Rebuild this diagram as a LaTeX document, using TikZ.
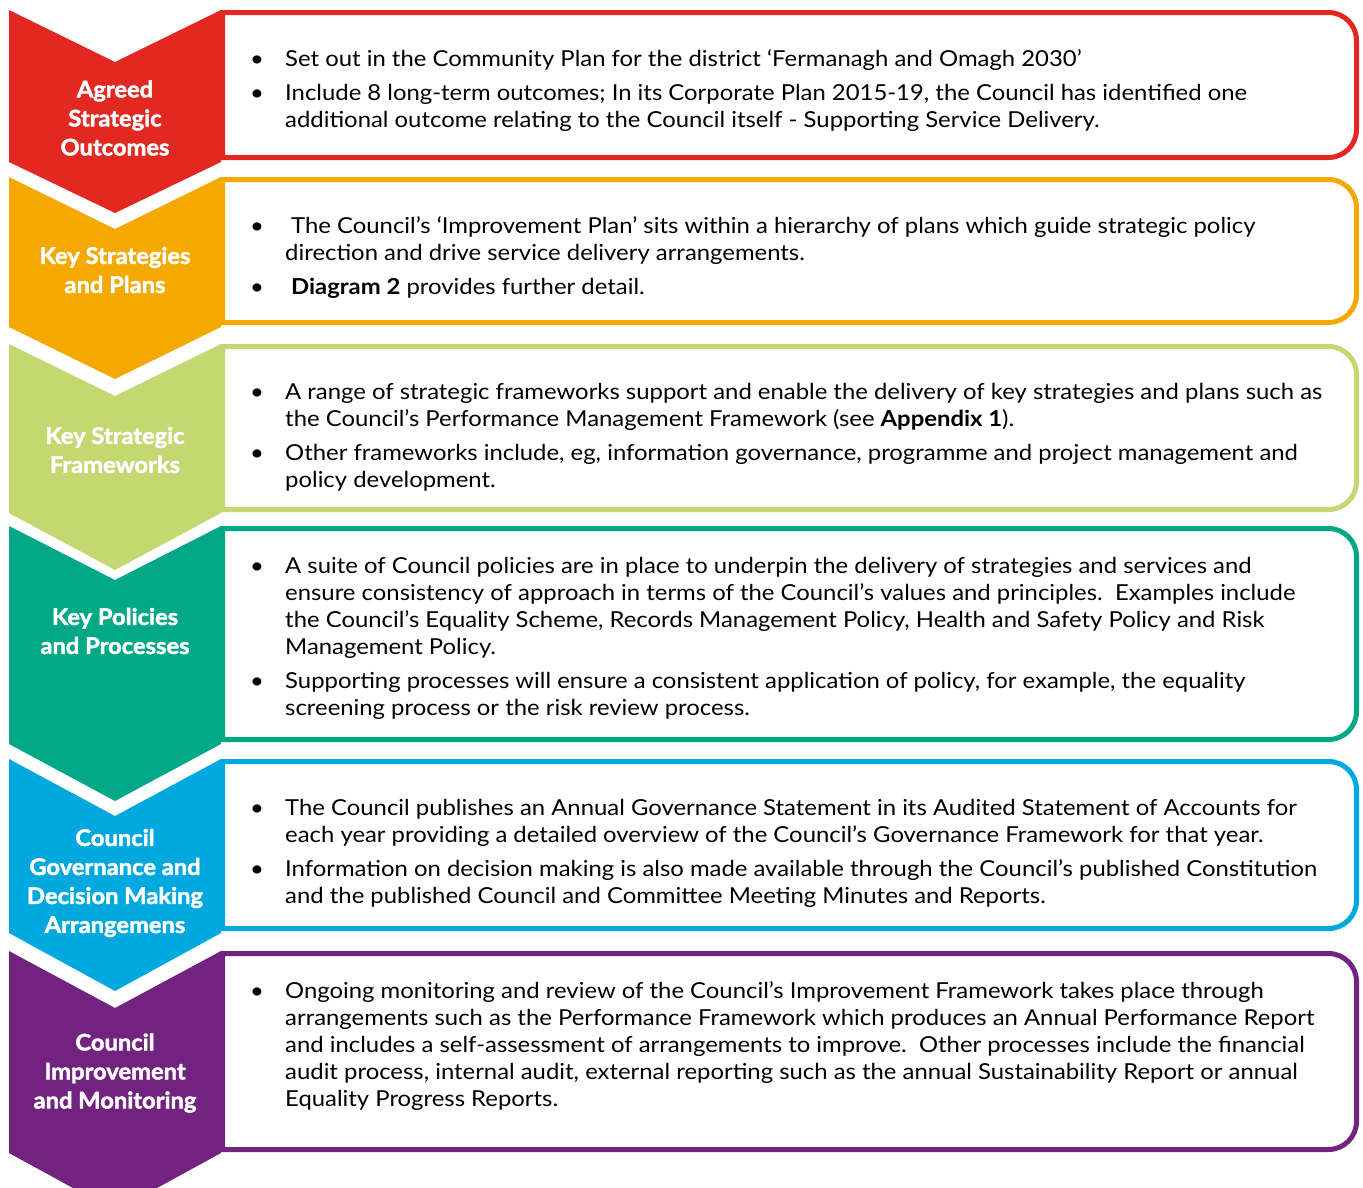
\documentclass[tikz,border=0pt]{standalone}
\usepackage{fontspec}
\setmainfont{Lato}[FakeStretch=1.085]
\newfontfamily\headfamily{Lato}[FakeStretch=1.04, UprightFont=*, BoldFeatures={FakeBold=2}]
\definecolor{outcomered}{RGB}{227,39,33}
\definecolor{planorange}{RGB}{245,168,0}
\definecolor{frameworkgreen}{RGB}{197,215,113}
\definecolor{policyteal}{RGB}{0,168,135}
\definecolor{governblue}{RGB}{0,168,224}
\definecolor{monitorpurple}{RGB}{114,35,127}
\newcommand{\bodyfont}{\fontsize{22}{27}\selectfont}
\newcommand{\headfont}{\fontsize{22.8}{29}\selectfont\headfamily\bfseries}
\newenvironment{bullets}{\begin{tabular}[t]{@{}p{35pt}@{}l@{}}}{\end{tabular}}

\begin{document}
\begin{tikzpicture}[x=1pt, y=-1pt,
  chevron/.style={fill=#1},
  panel/.style={draw=#1, line width=5pt, fill=white},
  heading/.style={text=white, font=\headfont, align=center, inner sep=0pt},
  body/.style={anchor=base west, inner sep=0pt, font=\bodyfont}]
\useasboundingbox (0,0) rectangle (1363,1187);

% row 1
\draw[panel=outcomered] (222.5,12.5) -- (1328.5,12.5) arc[start angle=-90,end angle=0,radius=28]
  -- (1356.5,129.5) arc[start angle=0,end angle=90,radius=28] -- (222.5,157.5) -- cycle;
\fill[chevron=outcomered] (9,10) -- (115,62) -- (221,10) -- (221,162) -- (115,213) -- (9,162) -- cycle;
\node[heading] (outcomes) at (115,118) {Agreed\\Strategic\\Outcomes};
\node[body] (outcomestext) at (250,66) {\begin{bullets}
\textbullet & Set out in the Community Plan for the district ‘Fermanagh and Omagh 2030’\\[7pt]
\textbullet & Include 8 long-term outcomes; In its Corporate Plan 2015-19, the Council has identified one\\
 & additional outcome relating to the Council itself - Supporting Service Delivery.
\end{bullets}};

% row 2
\draw[panel=planorange] (222.5,179.5) -- (1328.5,179.5) arc[start angle=-90,end angle=0,radius=28]
  -- (1356.5,294.5) arc[start angle=0,end angle=90,radius=28] -- (222.5,322.5) -- cycle;
\fill[chevron=planorange] (9,177) -- (115,229) -- (221,177) -- (221,327) -- (115,379) -- (9,327) -- cycle;
\node[heading] (plans) at (115,270) {Key Strategies\\and Plans};
\node[body] (planstext) at (250,233) {\begin{bullets}
\textbullet & \hspace{6pt}The Council’s ‘Improvement Plan’ sits within a hierarchy of plans which guide strategic policy\\
 & direction and drive service delivery arrangements.\\[7pt]
\textbullet & \hspace{6pt}\textbf{Diagram 2} provides further detail.
\end{bullets}};

% row 3
\draw[panel=frameworkgreen] (222.5,346.5) -- (1328.5,346.5) arc[start angle=-90,end angle=0,radius=28]
  -- (1356.5,481.5) arc[start angle=0,end angle=90,radius=28] -- (222.5,509.5) -- cycle;
\fill[chevron=frameworkgreen] (9,344) -- (115,396) -- (221,344) -- (221,513) -- (115,570) -- (9,513) -- cycle;
\node[heading] (frameworks) at (115,450) {Key Strategic\\Frameworks};
\node[body] (frameworkstext) at (250,399) {\begin{bullets}
\textbullet & A range of strategic frameworks support and enable the delivery of key strategies and plans such as\\
 & the Council’s Performance Management Framework (see \textbf{Appendix 1}).\\[7pt]
\textbullet & Other frameworks include, eg, information governance, programme and project management and\\
 & policy development.
\end{bullets}};

% row 4
\draw[panel=policyteal] (222.5,528.5) -- (1328.5,528.5) arc[start angle=-90,end angle=0,radius=28]
  -- (1356.5,711.5) arc[start angle=0,end angle=90,radius=28] -- (222.5,739.5) -- cycle;
\fill[chevron=policyteal] (9,526) -- (115,580) -- (221,526) -- (221,744) -- (115,801) -- (9,744) -- cycle;
\node[heading] (policies) at (115,631) {Key Policies\\and Processes};
\node[body] (policiestext) at (250,573) {\begin{bullets}
\textbullet & A suite of Council policies are in place to underpin the delivery of strategies and services and\\
 & ensure consistency of approach in terms of the Council’s values and principles.\ \ Examples include\\
 & the Council’s Equality Scheme, Records Management Policy, Health and Safety Policy and Risk\\
 & Management Policy.\\[7pt]
\textbullet & Supporting processes will ensure a consistent application of policy, for example, the equality\\
 & screening process or the risk review process.
\end{bullets}};

% row 5
\draw[panel=governblue] (222.5,761.5) -- (1328.5,761.5) arc[start angle=-90,end angle=0,radius=28]
  -- (1356.5,900.5) arc[start angle=0,end angle=90,radius=28] -- (222.5,928.5) -- cycle;
\fill[chevron=governblue] (9,759) -- (115,816) -- (221,759) -- (221,933) -- (115,991) -- (9,933) -- cycle;
\node[heading] (governance) at (115,883) {Council\\Governance and\\Decision Making\\Arrangemens};
\node[body] (governancetext) at (250,815) {\begin{bullets}
\textbullet & The Council publishes an Annual Governance Statement in its Audited Statement of Accounts for\\
 & each year providing a detailed overview of the Council’s Governance Framework for that year.\\[7pt]
\textbullet & Information on decision making is also made available through the Council’s published Constitution\\
 & and the published Council and Committee Meeting Minutes and Reports.
\end{bullets}};

% row 6
\draw[panel=monitorpurple] (222.5,953.5) -- (1328.5,953.5) arc[start angle=-90,end angle=0,radius=28]
  -- (1356.5,1121.5) arc[start angle=0,end angle=90,radius=28] -- (222.5,1149.5) -- cycle;
\fill[chevron=monitorpurple] (9,951) -- (115,1008) -- (221,951) -- (221,1153) -- (115,1211) -- (9,1153) -- cycle;
\node[heading] (monitoring) at (115,1073) {Council\\Improvement\\and Monitoring};
\node[body] (monitoringtext) at (250,998) {\begin{bullets}
\textbullet & Ongoing monitoring and review of the Council’s Improvement Framework takes place through\\
 & arrangements such as the Performance Framework which produces an Annual Performance Report\\
 & and includes a self-assessment of arrangements to improve.\ \ Other processes include the financial\\
 & audit process, internal audit, external reporting such as the annual Sustainability Report or annual\\
 & Equality Progress Reports.
\end{bullets}};
\end{tikzpicture}
\end{document}
